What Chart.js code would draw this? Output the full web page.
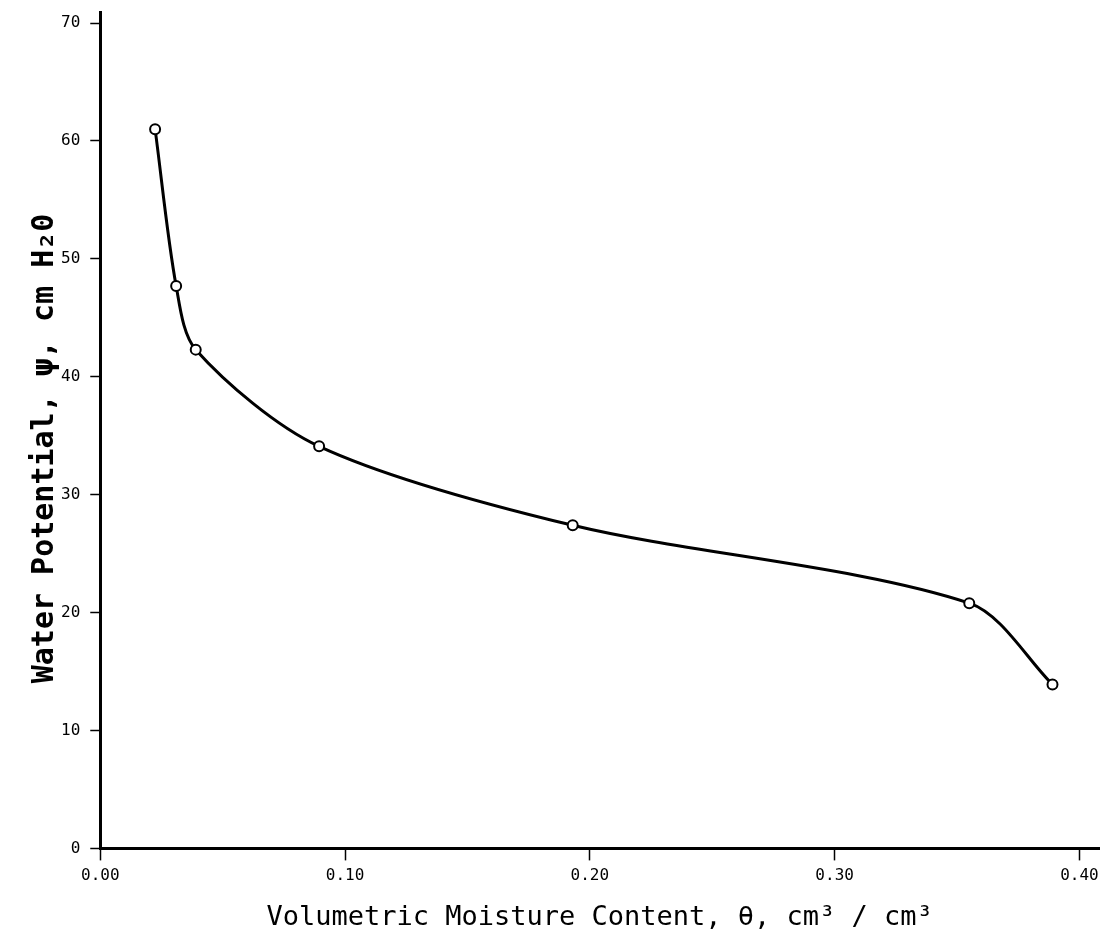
<!DOCTYPE html>
<html>
<head>
<meta charset="utf-8">
<script src="https://cdn.jsdelivr.net/npm/chart.js@4/dist/chart.umd.min.js"></script>
<style>
    html, body { margin: 0; padding: 0; background: #fff; }
    #box { width: 1114px; height: 942px; }
</style>
</head>
<body>
<div id="box"><canvas id="grafico_retencao"></canvas></div>
<script>
// dados
var umidade = [0.0224, 0.031, 0.039, 0.0894, 0.193, 0.355, 0.389];
var potencial = [61.0, 47.7, 42.3, 34.1, 27.4, 20.8, 13.9];
var ticksX = [0.00, 0.10, 0.20, 0.30, 0.40];
var ticksY = [0, 10, 20, 30, 40, 50, 60, 70];

geraGraficoCurva();

function geraGraficoCurva() {
    var pontos = [];
    for (var i = 0; i < umidade.length; i++) {
        pontos[i] = {x: umidade[i], y: potencial[i]};
    }
    var data = {
        datasets: [{
                data: pontos,
                borderColor: '#000',
                borderWidth: 3,
                tension: 0.3,
                showLine: true,
                pointRadius: 5,
                pointBorderWidth: 2,
                pointBackgroundColor: '#fff',
                pointBorderColor: '#000'
            }, {
                // ponto central dentro de cada circulo
                data: pontos,
                showLine: false,
                pointRadius: 1.3,
                pointBorderWidth: 0,
                pointBackgroundColor: '#000'
            }]
    };
    var option = {
        responsive: true,
        maintainAspectRatio: false,
        animation: false,
        layout: {
            padding: {top: 0, right: 15, left: 23, bottom: 8}
        },
        plugins: {
            legend: {display: false},
            tooltip: {enabled: false}
        },
        scales: {
            x: {
                type: 'linear',
                min: 0,
                max: 0.408,
                afterBuildTicks: function (scale) {
                    scale.ticks = ticksX.map(function (v) { return {value: v}; });
                },
                border: {display: true, color: '#000', width: 3},
                grid: {display: true, drawOnChartArea: false, drawTicks: true, tickLength: 12, tickWidth: 1.5, tickColor: '#000'},
                ticks: {
                    color: '#000',
                    padding: 6,
                    maxRotation: 0,
                    font: {family: 'DejaVu Sans Mono', size: 16},
                    callback: function (v) { return v.toFixed(2); }
                },
                title: {
                    display: true,
                    text: 'Volumetric Moisture Content, \u03b8, cm\u00b3 / cm\u00b3',
                    color: '#000',
                    font: {family: 'DejaVu Sans Mono', size: 27},
                    padding: {top: 10, bottom: 0}
                }
            },
            y: {
                type: 'linear',
                min: 0,
                max: 70.9,
                afterBuildTicks: function (scale) {
                    scale.ticks = ticksY.map(function (v) { return {value: v}; });
                },
                border: {display: true, color: '#000', width: 3},
                grid: {display: true, drawOnChartArea: false, drawTicks: true, tickLength: 10, tickWidth: 1.5, tickColor: '#000'},
                ticks: {
                    color: '#000',
                    padding: 10,
                    font: {family: 'DejaVu Sans Mono', size: 16, lineHeight: 0.3}
                },
                title: {
                    display: true,
                    text: 'Water Potential, \u03c8, cm H\u20820  ',
                    color: '#000',
                    font: {family: 'DejaVu Sans Mono', size: 30, weight: 'bold'},
                    padding: {top: 4, bottom: -12}
                }
            }
        }
    };
    var ctx = document.getElementById('grafico_retencao');
    var myChart = new Chart(ctx, {
        type: 'scatter',
        data: data,
        options: option
    });
}
</script>
</body>
</html>
